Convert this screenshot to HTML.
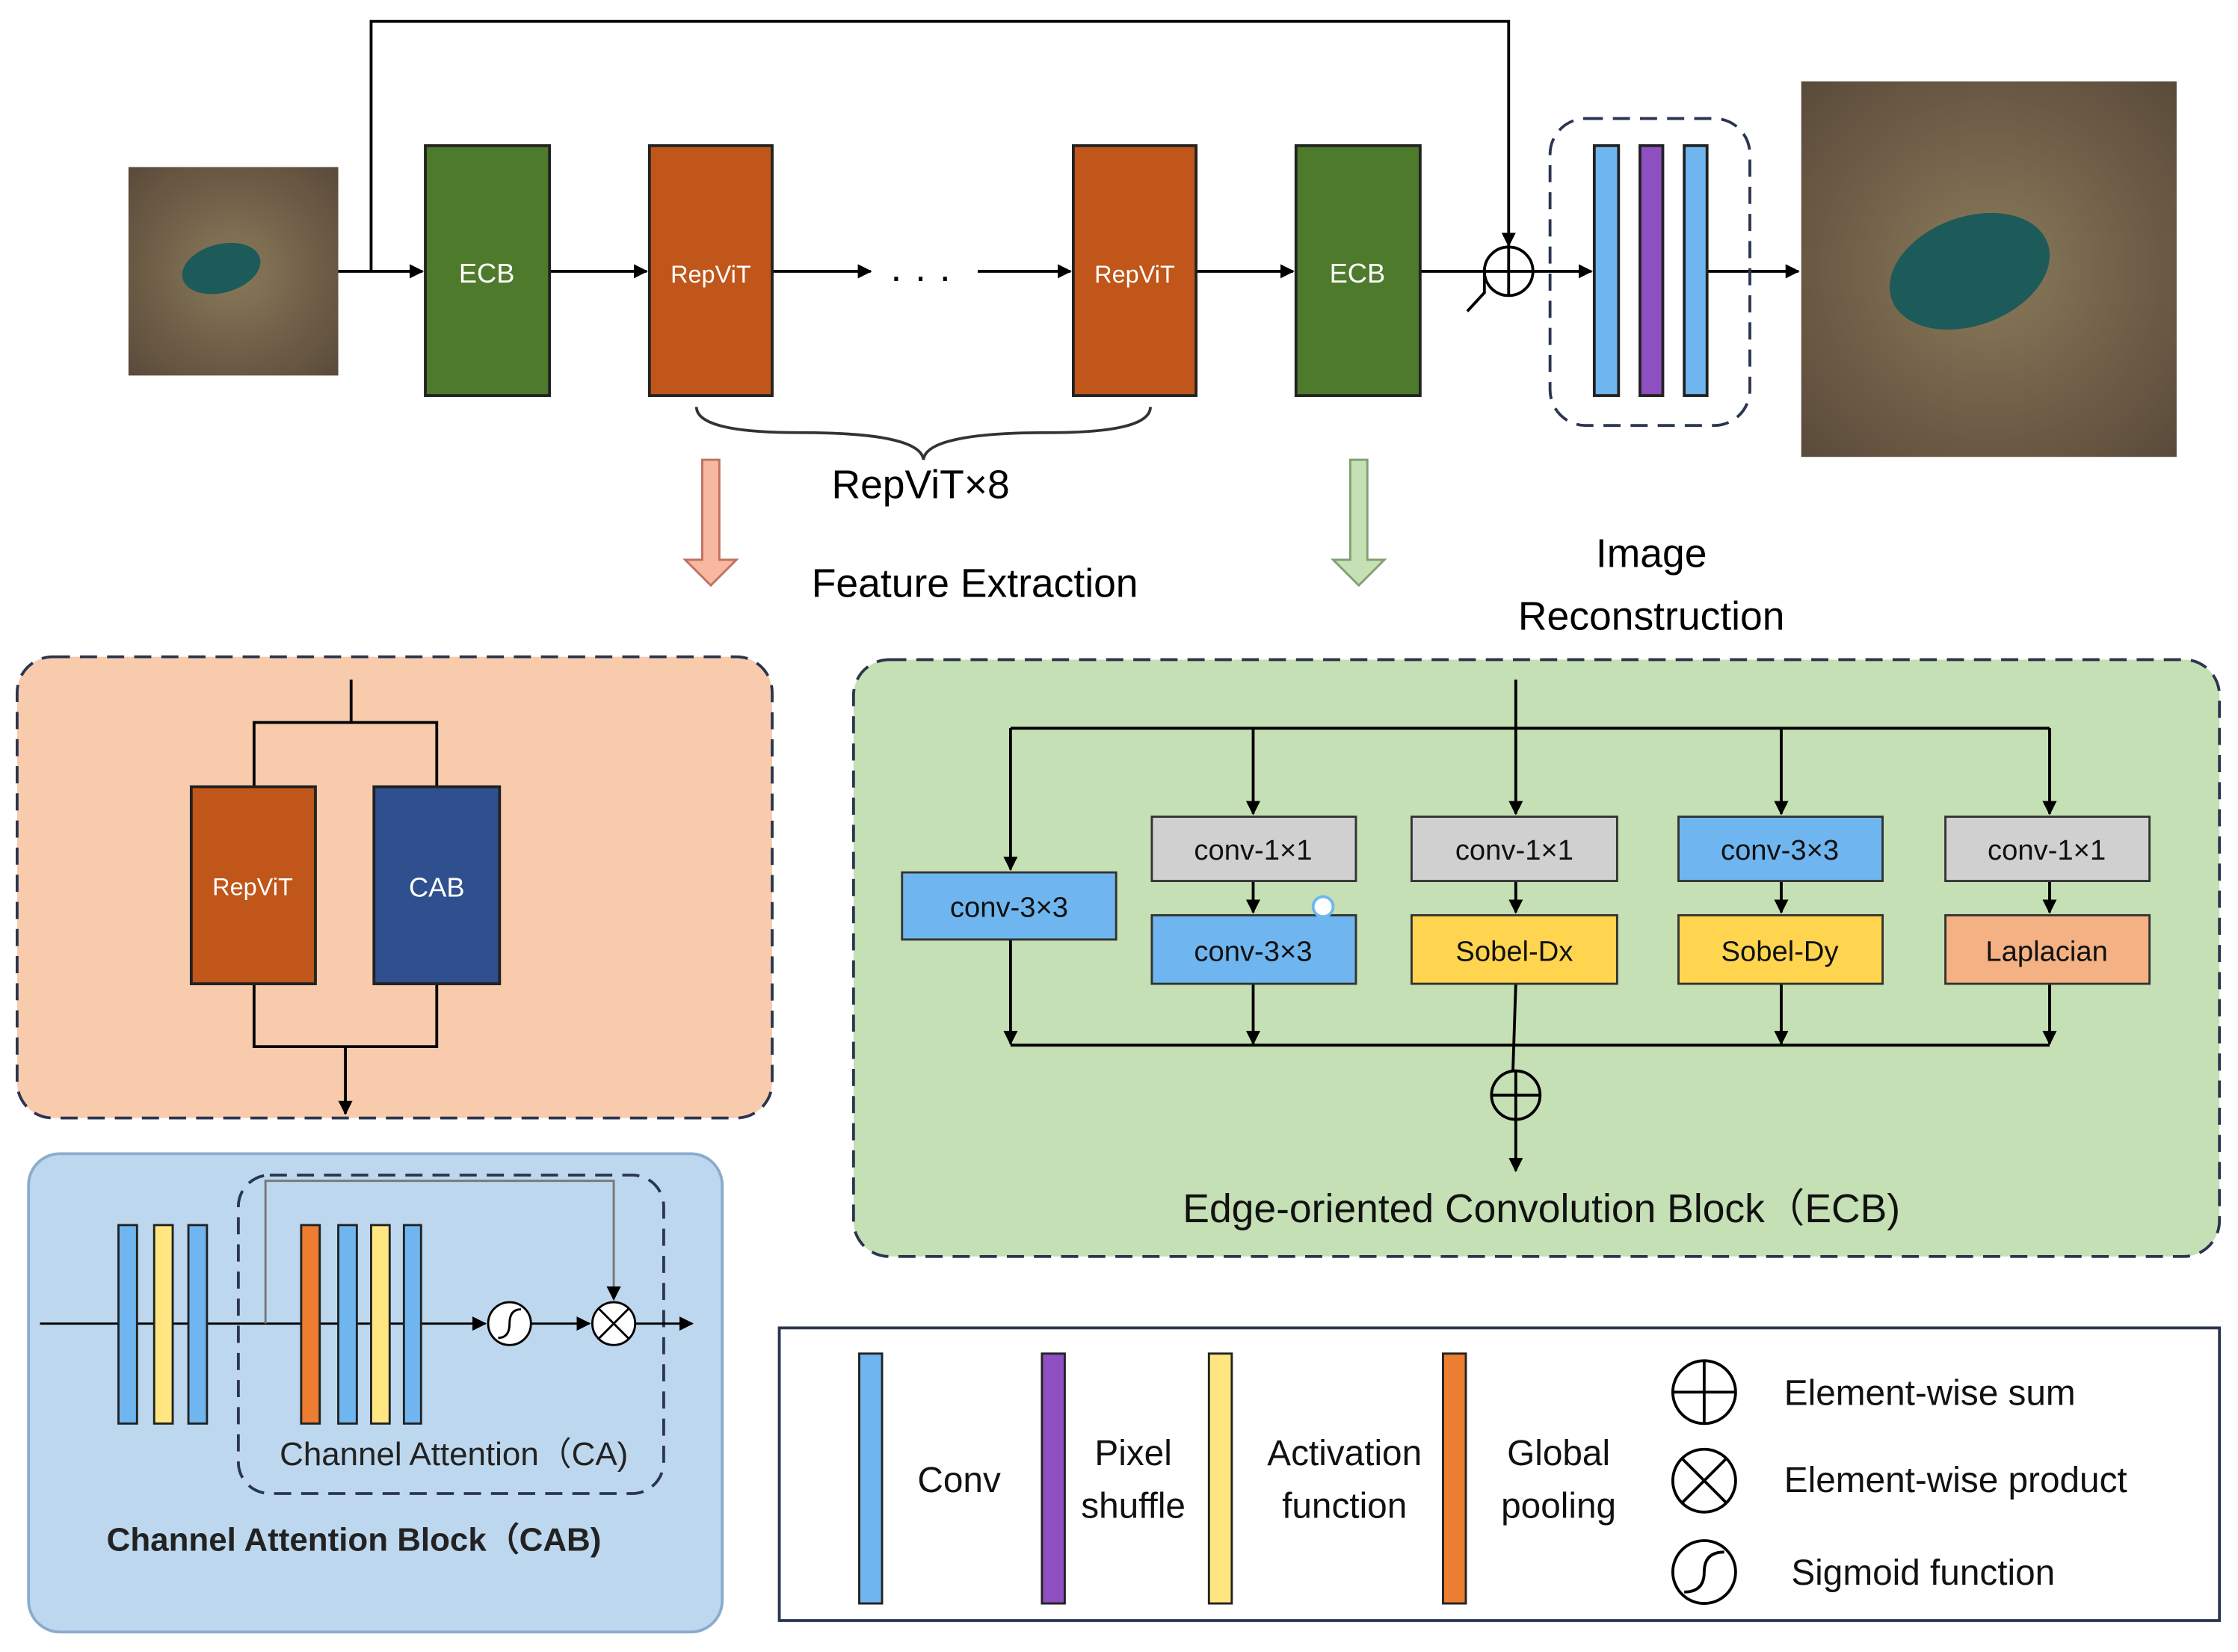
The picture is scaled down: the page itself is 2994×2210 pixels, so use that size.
<!DOCTYPE html>
<html><head><meta charset="utf-8"><style>
html,body{margin:0;padding:0;background:#fff}
svg{display:block}
text{font-family:"Liberation Sans",sans-serif}
</style></head><body>
<svg width="2994" height="2210" viewBox="0 0 1568 1157" preserveAspectRatio="none" xmlns="http://www.w3.org/2000/svg">
<defs>
<marker id="a" markerWidth="10" markerHeight="10" refX="9" refY="5" orient="auto" markerUnits="userSpaceOnUse"><path d="M0,0 L10,5 L0,10 z" fill="#000"/></marker>
<radialGradient id="img" cx="0.5" cy="0.5" r="0.7"><stop offset="0" stop-color="#8a7a5a"/><stop offset="1" stop-color="#5a4a3a"/></radialGradient>
</defs>
<g stroke="#000" stroke-width="2" fill="none">
<polyline points="260,190 260,15 1057,15 1057,172" marker-end="url(#a)"/>
<line x1="237" y1="190" x2="296" y2="190" marker-end="url(#a)"/>
<line x1="385" y1="190" x2="453" y2="190" marker-end="url(#a)"/>
<line x1="541" y1="190" x2="610" y2="190" marker-end="url(#a)"/>
<line x1="685" y1="190" x2="750" y2="190" marker-end="url(#a)"/>
<line x1="838" y1="190" x2="906" y2="190" marker-end="url(#a)"/>
<line x1="995" y1="190" x2="1040" y2="190"/>
<line x1="1074" y1="190" x2="1115" y2="190" marker-end="url(#a)"/>
<line x1="1196" y1="190" x2="1260" y2="190" marker-end="url(#a)"/>
<polyline points="1028,218 1040,205 1040,190"/>
<circle cx="1057" cy="190" r="17"/>
<line x1="1040" y1="190" x2="1074" y2="190"/><line x1="1057" y1="173" x2="1057" y2="207"/>
</g>
<rect x="90" y="117" width="147" height="146" fill="url(#img)"/>
<ellipse cx="155" cy="188" rx="28" ry="17" fill="#1d5a5a" transform="rotate(-15 155 188)"/>
<rect x="1262" y="57" width="263" height="263" fill="url(#img)"/>
<ellipse cx="1380" cy="190" rx="58" ry="38" fill="#1d5a5a" transform="rotate(-20 1380 190)"/>
<g stroke="#222" stroke-width="2">
<rect x="298" y="102" width="87" height="175" fill="#4e7a2c"/>
<rect x="455" y="102" width="86" height="175" fill="#c0561a"/>
<rect x="752" y="102" width="86" height="175" fill="#c0561a"/>
<rect x="908" y="102" width="87" height="175" fill="#4e7a2c"/>
</g>
<g fill="#fff" font-size="19" text-anchor="middle">
<text x="341" y="198">ECB</text><text x="498" y="198" font-size="17">RepViT</text>
<text x="795" y="198" font-size="17">RepViT</text><text x="951" y="198">ECB</text>
</g>
<text x="645" y="203" font-size="28" text-anchor="middle">· · ·</text>
<rect x="1086" y="83" width="140" height="215" rx="25" fill="none" stroke="#2a3550" stroke-width="2" stroke-dasharray="12,7"/>
<g stroke="#222" stroke-width="2"><rect x="1117" y="102" width="17" height="175" fill="#6fb6f0"/><rect x="1149" y="102" width="16" height="175" fill="#8e4fc0"/><rect x="1180" y="102" width="16" height="175" fill="#6fb6f0"/></g>
<path d="M488,285 Q488,303 560,303 Q645,303 647,322 Q649,303 735,303 Q806,303 806,285" fill="none" stroke="#333" stroke-width="2"/>
<text x="645" y="349" font-size="28" text-anchor="middle">RepViT×8</text>
<path d="M492,322 H504 V392 H516 L498,410 L480,392 H492 Z" fill="#f8b8a0" stroke="#c07060" stroke-width="1.5"/>
<path d="M946,322 H958 V392 H970 L952,410 L934,392 H946 Z" fill="#c5e0b4" stroke="#80a070" stroke-width="1.5"/>
<text x="683" y="418" font-size="28" text-anchor="middle">Feature Extraction</text>
<text x="1157" y="397" font-size="28" text-anchor="middle">Image</text>
<text x="1157" y="441" font-size="28" text-anchor="middle">Reconstruction</text>
<!-- pink -->
<rect x="12" y="460" width="529" height="323" rx="25" fill="#f8cbad" stroke="#2a3550" stroke-width="2" stroke-dasharray="12,7"/>
<g stroke="#000" stroke-width="2" fill="none">
<polyline points="246,476 246,506"/><polyline points="178,551 178,506 306,506 306,551"/>
<polyline points="178,689 178,733 306,733 306,689"/><line x1="242" y1="733" x2="242" y2="780" marker-end="url(#a)"/>
</g>
<rect x="134" y="551" width="87" height="138" fill="#c0561a" stroke="#222" stroke-width="2"/>
<rect x="262" y="551" width="88" height="138" fill="#2f4f8f" stroke="#222" stroke-width="2"/>
<text x="177" y="627" font-size="17" fill="#fff" text-anchor="middle">RepViT</text>
<text x="306" y="628" font-size="19" fill="#fff" text-anchor="middle">CAB</text>
<!-- CAB -->
<rect x="20" y="808" width="486" height="335" rx="22" fill="#bdd7ee" stroke="#8aaccc" stroke-width="2"/>
<rect x="167" y="823" width="298" height="223" rx="22" fill="none" stroke="#2a3550" stroke-width="2" stroke-dasharray="12,7"/>
<g stroke="#000" stroke-width="1.5" fill="none">
<line x1="28" y1="927" x2="340" y2="927" marker-end="url(#a)"/>
<line x1="372" y1="927" x2="413" y2="927" marker-end="url(#a)"/>
<line x1="445" y1="927" x2="485" y2="927" marker-end="url(#a)"/>
<polyline points="186,927 186,827 430,827 430,910" stroke="#777" marker-end="url(#a)"/>
<circle cx="357" cy="927" r="15" fill="#fff"/><path d="M349,937 Q357,937 357,927 Q357,917 365,917"/>
<circle cx="430" cy="927" r="15" fill="#fff"/><path d="M419,916 L441,938 M441,916 L419,938"/>
</g>
<g stroke="#222" stroke-width="1.5">
<rect x="83" y="858" width="13" height="139" fill="#6fb6f0"/><rect x="108" y="858" width="13" height="139" fill="#ffe680"/><rect x="132" y="858" width="13" height="139" fill="#6fb6f0"/>
<rect x="211" y="858" width="13" height="139" fill="#ed7d31"/><rect x="237" y="858" width="13" height="139" fill="#6fb6f0"/><rect x="260" y="858" width="13" height="139" fill="#ffe680"/><rect x="283" y="858" width="12" height="139" fill="#6fb6f0"/>
</g>
<text x="318" y="1026" font-size="23" text-anchor="middle" fill="#222">Channel Attention（CA)</text>
<text x="248" y="1086" font-size="23" font-weight="bold" text-anchor="middle" fill="#222">Channel Attention Block（CAB)</text>
<!-- ECB detail -->
<rect x="598" y="462" width="957" height="418" rx="25" fill="#c5e0b4" stroke="#2a3550" stroke-width="2" stroke-dasharray="12,7"/>
<g stroke="#000" stroke-width="2" fill="none">
<line x1="1062" y1="476" x2="1062" y2="570" marker-end="url(#a)"/>
<line x1="708" y1="510" x2="1436" y2="510"/>
<line x1="708" y1="510" x2="708" y2="609" marker-end="url(#a)"/>
<line x1="878" y1="510" x2="878" y2="570" marker-end="url(#a)"/>
<line x1="1248" y1="510" x2="1248" y2="570" marker-end="url(#a)"/>
<line x1="1436" y1="510" x2="1436" y2="570" marker-end="url(#a)"/>
<line x1="878" y1="617" x2="878" y2="639" marker-end="url(#a)"/>
<line x1="1062" y1="617" x2="1062" y2="639" marker-end="url(#a)"/>
<line x1="1248" y1="617" x2="1248" y2="639" marker-end="url(#a)"/>
<line x1="1436" y1="617" x2="1436" y2="639" marker-end="url(#a)"/>
<line x1="708" y1="658" x2="708" y2="731" marker-end="url(#a)"/>
<line x1="878" y1="689" x2="878" y2="731" marker-end="url(#a)"/>
<line x1="1062" y1="689" x2="1060" y2="750"/>
<line x1="1248" y1="689" x2="1248" y2="731" marker-end="url(#a)"/>
<line x1="1436" y1="689" x2="1436" y2="731" marker-end="url(#a)"/>
<line x1="708" y1="732" x2="1436" y2="732"/>
<circle cx="1062" cy="767" r="17"/><line x1="1045" y1="767" x2="1079" y2="767"/><line x1="1062" y1="750" x2="1062" y2="784"/>
<line x1="1062" y1="784" x2="1062" y2="820" marker-end="url(#a)"/>
</g>
<g stroke="#333" stroke-width="1.5" font-size="20">
<rect x="632" y="611" width="150" height="47" fill="#6fb6f0"/>
<rect x="807" y="572" width="143" height="45" fill="#d0d0d0"/><rect x="807" y="641" width="143" height="48" fill="#6fb6f0"/>
<rect x="989" y="572" width="144" height="45" fill="#d0d0d0"/><rect x="989" y="641" width="144" height="48" fill="#ffd54f"/>
<rect x="1176" y="572" width="143" height="45" fill="#6fb6f0"/><rect x="1176" y="641" width="143" height="48" fill="#ffd54f"/>
<rect x="1363" y="572" width="143" height="45" fill="#d0d0d0"/><rect x="1363" y="641" width="143" height="48" fill="#f4b183"/>
</g>
<circle cx="927" cy="635" r="7" fill="#fff" stroke="#6fb6f0" stroke-width="2"/>
<g font-size="20" text-anchor="middle" fill="#111">
<text x="707" y="642">conv-3×3</text>
<text x="878" y="602">conv-1×1</text><text x="878" y="673">conv-3×3</text>
<text x="1061" y="602">conv-1×1</text><text x="1061" y="673">Sobel-Dx</text>
<text x="1247" y="602">conv-3×3</text><text x="1247" y="673">Sobel-Dy</text>
<text x="1434" y="602">conv-1×1</text><text x="1434" y="673">Laplacian</text>
</g>
<text x="1080" y="856" font-size="28" text-anchor="middle" fill="#111">Edge-oriented Convolution Block（ECB)</text>
<!-- legend -->
<rect x="546" y="930" width="1009" height="205" fill="#fff" stroke="#2a3550" stroke-width="2"/>
<g stroke="#222" stroke-width="1.5">
<rect x="602" y="948" width="16" height="175" fill="#6fb6f0"/><rect x="730" y="948" width="16" height="175" fill="#8e4fc0"/>
<rect x="847" y="948" width="16" height="175" fill="#ffe680"/><rect x="1011" y="948" width="16" height="175" fill="#ed7d31"/>
</g>
<g font-size="25" text-anchor="middle" fill="#111">
<text x="672" y="1045">Conv</text>
<text x="794" y="1026">Pixel</text><text x="794" y="1063">shuffle</text>
<text x="942" y="1026">Activation</text><text x="942" y="1063">function</text>
<text x="1092" y="1026">Global</text><text x="1092" y="1063">pooling</text>
</g>
<g stroke="#000" stroke-width="2" fill="none">
<circle cx="1194" cy="975" r="22"/><line x1="1172" y1="975" x2="1216" y2="975"/><line x1="1194" y1="953" x2="1194" y2="997"/>
<circle cx="1194" cy="1037" r="22"/><path d="M1178,1021 L1210,1053 M1210,1021 L1178,1053"/>
<circle cx="1194" cy="1101" r="22"/><path d="M1180,1115 Q1194,1115 1194,1101 Q1194,1087 1208,1087"/>
</g>
<g font-size="25" fill="#111">
<text x="1250" y="984">Element-wise sum</text>
<text x="1250" y="1045">Element-wise product</text>
<text x="1255" y="1110">Sigmoid function</text>
</g>
</svg>
</body></html>
